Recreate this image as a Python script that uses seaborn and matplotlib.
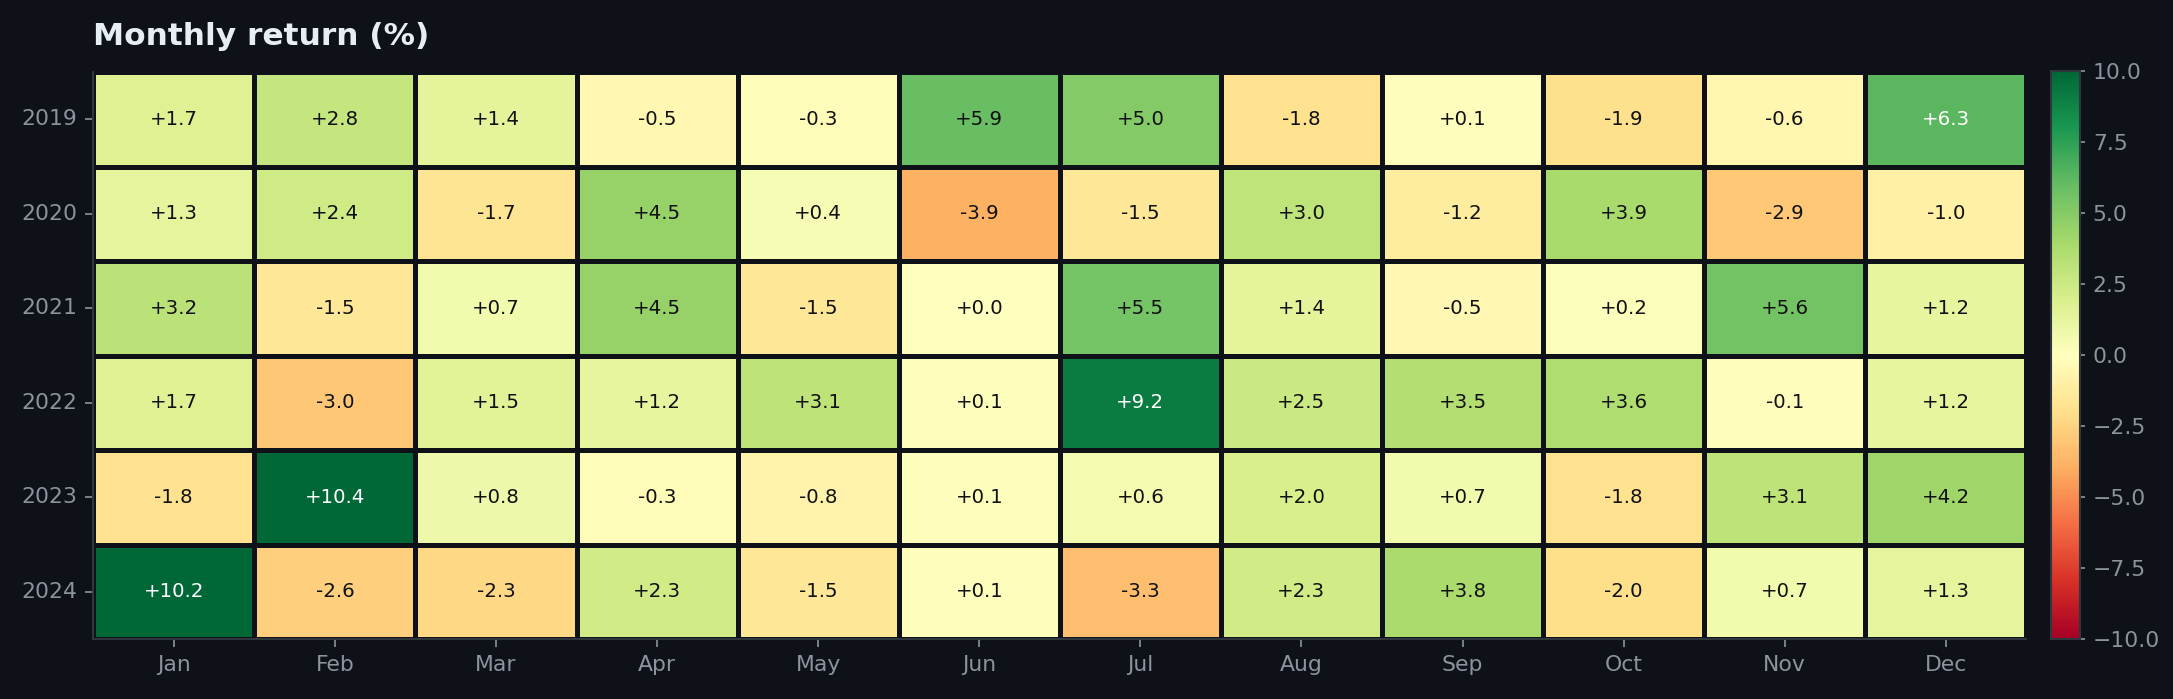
import numpy as np
import pandas as pd
import matplotlib
matplotlib.use("Agg")
import matplotlib.pyplot as plt
import seaborn as sns

# monthly returns (%)
years = ["2019", "2020", "2021", "2022", "2023", "2024"]
months = ["Jan", "Feb", "Mar", "Apr", "May", "Jun",
          "Jul", "Aug", "Sep", "Oct", "Nov", "Dec"]
r2019 = [1.7, 2.8, 1.4, -0.5, -0.3, 5.9, 5.0, -1.8, 0.1, -1.9, -0.6, 6.3]
r2020 = [1.3, 2.4, -1.7, 4.5, 0.4, -3.9, -1.5, 3.0, -1.2, 3.9, -2.9, -1.0]
r2021 = [3.2, -1.5, 0.7, 4.5, -1.5, 0.0, 5.5, 1.4, -0.5, 0.2, 5.6, 1.2]
r2022 = [1.7, -3.0, 1.5, 1.2, 3.1, 0.1, 9.2, 2.5, 3.5, 3.6, -0.1, 1.2]
r2023 = [-1.8, 10.4, 0.8, -0.3, -0.8, 0.1, 0.6, 2.0, 0.7, -1.8, 3.1, 4.2]
r2024 = [10.2, -2.6, -2.3, 2.3, -1.5, 0.1, -3.3, 2.3, 3.8, -2.0, 0.7, 1.3]

df = pd.DataFrame([r2019, r2020, r2021, r2022, r2023, r2024],
                  index=years, columns=months)

bg = "#0e1117"
tick_col = "#8b949e"
edge_col = "#30363d"

fig = plt.figure(figsize=(14.49, 4.66), dpi=150, facecolor=bg)
# axes placed to match the reference layout
ax = fig.add_axes([0.0429, 0.0858, 0.8894, 0.8112])
cax = fig.add_axes([0.9437, 0.0858, 0.0134, 0.8128])

sns.heatmap(df, ax=ax, cbar_ax=cax, cmap="RdYlGn", vmin=-10, vmax=10, center=0,
            annot=True, fmt="+.1f", annot_kws={"fontsize": 9.5},
            linewidths=1.6, linecolor=bg)

# white labels only on the strongest cells
vals = df.values.ravel()
for txt, v in zip(ax.texts, vals):
    txt.set_color("white" if abs(v) > 6 else "#111111")

ax.set_facecolor(bg)
ax.set_title("Monthly return (%)", loc="left", fontsize=15, weight="bold",
             color="#e6edf3", pad=13)
ax.tick_params(colors=tick_col, labelsize=10.5, length=4)
ax.set_yticklabels(years, rotation=0, color=tick_col)
ax.set_xticklabels(months, rotation=0, color=tick_col)
ax.set_xlabel("")
ax.set_ylabel("")
for side in ["left", "bottom"]:
    ax.spines[side].set_visible(True)
    ax.spines[side].set_color(edge_col)
    ax.spines[side].set_linewidth(1)

cbar = ax.collections[0].colorbar
cbar.outline.set_edgecolor(edge_col)
cbar.outline.set_linewidth(1)
cbar.ax.tick_params(colors=tick_col, labelsize=10.5, length=2.5)
cbar.set_ticks([-10, -7.5, -5, -2.5, 0, 2.5, 5, 7.5, 10])

plt.savefig("out.png", dpi=150, facecolor=bg)
